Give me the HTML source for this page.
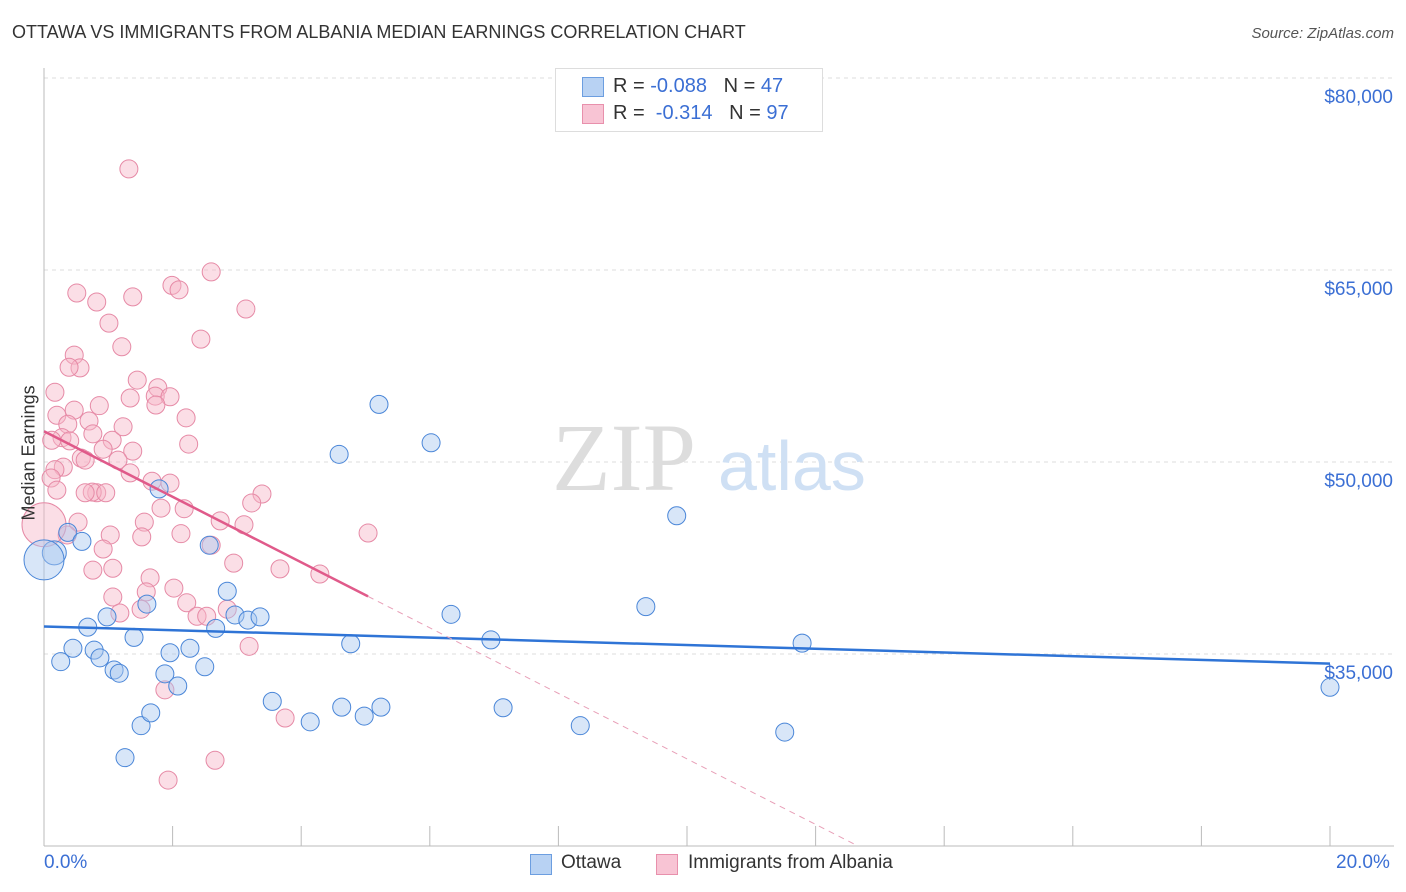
<!DOCTYPE html>
<html><head><meta charset="utf-8"><style>
body{margin:0;background:#fff;font-family:"Liberation Sans",sans-serif}
#w{position:relative;width:1406px;height:892px;overflow:hidden}
.t{position:absolute;white-space:nowrap}
</style></head><body>
<div id="w">
<div class="t" style="left:12px;top:22px;font-size:18px;color:#333">OTTAWA VS IMMIGRANTS FROM ALBANIA MEDIAN EARNINGS CORRELATION CHART</div>
<div class="t" style="right:12px;top:25px;font-size:15px;color:#555;font-style:italic">Source: ZipAtlas.com</div>
<svg id="s" width="1406" height="892" style="position:absolute;left:0;top:0"></svg>
</div>
<script>
const blueX=[0.16,0.0,0.37,0.59,0.68,0.45,0.26,0.78,0.87,1.09,1.17,0.98,1.40,1.26,1.51,1.66,1.60,1.79,1.96,1.88,2.08,2.27,2.50,2.57,2.67,2.85,2.97,3.17,3.36,3.55,4.14,4.63,4.59,4.77,4.98,5.24,5.21,6.02,6.33,6.95,7.14,8.34,9.36,9.84,11.52,11.79,20.0];
const blueY=[42900,42350,44500,43800,37100,35450,34400,35300,34700,33750,33500,37900,36300,26900,29400,30400,38900,47900,35100,33450,32500,35450,34000,43500,37000,39900,38050,37650,37900,31300,29700,30850,50600,35800,30150,30850,54500,51500,38100,36100,30800,29400,38700,45800,28900,35850,32400];
const pinkX=[1.32,2.60,0.51,0.82,1.38,1.99,2.10,3.14,1.01,2.44,1.21,0.47,0.56,0.39,1.45,1.77,0.17,1.34,1.73,1.96,0.20,0.47,0.86,0.70,2.21,1.74,0.37,0.28,0.76,1.06,1.23,0.92,1.38,2.25,0.12,0.40,0.58,0.64,0.30,0.17,0.11,0.20,1.15,1.34,1.68,0.82,0.75,0.64,0.96,3.39,3.23,2.18,1.82,1.56,0.53,0.36,1.03,2.74,3.11,2.13,1.52,2.60,0.92,5.04,0.76,1.07,2.95,3.67,4.29,1.65,1.59,2.02,2.22,1.07,1.51,1.18,2.38,2.53,2.85,3.19,1.88,3.75,1.93,2.66,0,1.96];
const pinkY=[72900,64850,63200,62500,62900,63800,63450,61950,60850,59600,59000,58350,57350,57400,56400,55800,55450,55000,55150,55100,53650,54050,54400,53200,53450,54450,52950,51900,52200,51700,52750,51000,50850,51400,51700,51650,50300,50150,49600,49400,48750,47800,50150,49150,48500,47600,47650,47600,47600,47500,46800,46350,46400,45300,45300,44300,44300,45400,45100,44400,44150,43500,43200,44450,41550,41700,42100,41650,41250,40950,39850,40150,39000,39450,38500,38200,37950,37950,38500,35600,32200,30000,25150,26700,45100,48350];
const yTicks=[35000,50000,65000,80000];
const yLabels=["$35,000","$50,000","$65,000","$80,000"];
const blueTrend=[37150,34250];
const pinkTrend=[52400,39500];
const pinkSolidEnd=5.04;
const X=p=>44+p/20*1286;
const Y=v=>462-(v-50000)*0.0128;
const s=document.getElementById('s');const NS='http://www.w3.org/2000/svg';
function el(t,a,n){const e=document.createElementNS(NS,t);for(const k in a)e.setAttribute(k,a[k]);s.appendChild(e);return e;}
yTicks.forEach((v,i)=>{el('line',{x1:44,x2:1394,y1:Y(v),y2:Y(v),stroke:'#ddd','stroke-dasharray':'4,4'},'gridline');
const t=el('text',{x:1393,y:Y(v)+25,'text-anchor':'end','font-size':19,fill:'#3b6fd4'},'y-tick-label');t.textContent=yLabels[i];});
el('line',{x1:44,x2:44,y1:68,y2:846,stroke:'#bbb'},'y-axis');
el('line',{x1:44,x2:1394,y1:846,y2:846,stroke:'#bbb'},'x-axis');
for(let i=0;i<=10;i++)el('line',{x1:X(i*2),x2:X(i*2),y1:826,y2:846,stroke:'#bbb'},'x-tick');
const wm1=el('text',{x:552,y:490,'font-size':96,fill:'#ddd','font-family':'Liberation Serif'},'watermark-zip');wm1.textContent='ZIP';
const wm2=el('text',{x:718,y:490,'font-size':70,fill:'#cfe0f4'},'watermark-atlas');wm2.textContent='atlas';
function dot(x,y,c,st,n,r){el('circle',{cx:X(x),cy:Y(y),r:r,fill:c,'fill-opacity':0.45,stroke:st,'stroke-width':1},n);}
pinkX.forEach((x,i)=>dot(x,pinkY[i],'#f7b6c8','#e68aa6','pink-point',i==84?22:9));
blueX.forEach((x,i)=>dot(x,blueY[i],'#a9c8f0','#4a86d8','blue-point',i==1?20:(i==0?12:9)));
el('line',{x1:X(0),y1:Y(blueTrend[0]),x2:X(20),y2:Y(blueTrend[1]),stroke:'#2f74d6','stroke-width':2.5},'ottawa-trendline');
const sl=(pinkTrend[1]-pinkTrend[0])/pinkSolidEnd;
el('line',{x1:X(0),y1:Y(pinkTrend[0]),x2:X(pinkSolidEnd),y2:Y(pinkTrend[1]),stroke:'#e05a8a','stroke-width':2.5},'albania-trendline');
const xe=(20000-pinkTrend[0])/sl;
el('line',{x1:X(pinkSolidEnd),y1:Y(pinkTrend[1]),x2:X(xe),y2:Y(20000),stroke:'#e8a0b8','stroke-width':1,'stroke-dasharray':'6,5'},'albania-trend-extension');
</script>
<div class="t" style="left:-36px;top:445px;transform:rotate(-90deg);font-size:18px;color:#333;width:130px;text-align:center">Median Earnings</div>
<div class="t" style="left:44px;top:852px;font-size:19px;color:#3b6fd4">0.0%</div>
<div class="t" style="left:1336px;top:852px;font-size:19px;color:#3b6fd4">20.0%</div>
<div style="position:absolute;left:555px;top:68px;width:266px;height:62px;border:1px solid #ddd;background:#fff;font-size:20px;color:#333">
<div style="position:absolute;left:26px;top:8px;width:20px;height:18px;background:#b8d2f3;border:1px solid #6c9ee0"></div>
<div class="t" style="left:57px;top:6px">R = <span style="color:#3b6fd4">-0.088</span>&nbsp;&nbsp;&nbsp;N = <span style="color:#3b6fd4">47</span></div>
<div style="position:absolute;left:26px;top:35px;width:20px;height:18px;background:#f8c4d4;border:1px solid #e890ac"></div>
<div class="t" style="left:57px;top:33px">R = &nbsp;<span style="color:#3b6fd4">-0.314</span>&nbsp;&nbsp;&nbsp;N = <span style="color:#3b6fd4">97</span></div>
</div>
<div style="position:absolute;left:530px;top:852px;font-size:19px;color:#333">
<div style="position:absolute;left:0;top:2px;width:20px;height:19px;background:#b8d2f3;border:1px solid #6c9ee0"></div>
<div class="t" style="left:31px;top:0">Ottawa</div>
<div style="position:absolute;left:126px;top:2px;width:20px;height:19px;background:#f8c4d4;border:1px solid #e890ac"></div>
<div class="t" style="left:158px;top:0">Immigrants from Albania</div>
</div>
</body></html>
